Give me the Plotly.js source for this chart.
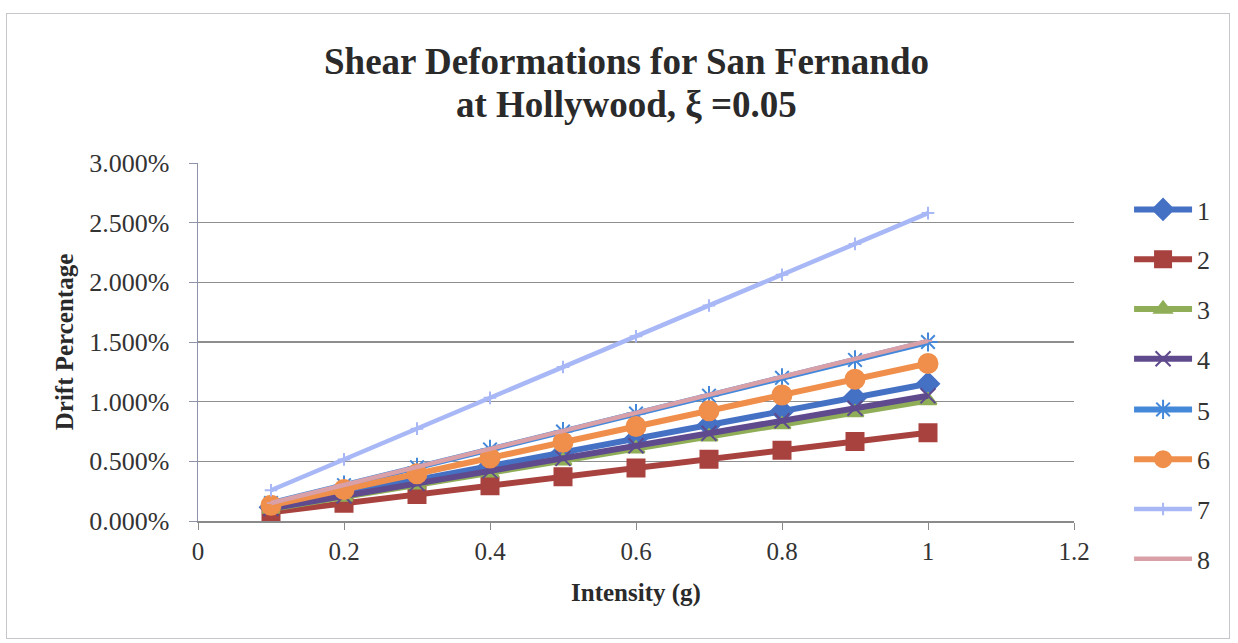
<!DOCTYPE html>
<html>
<head>
<meta charset="utf-8">
<script src="https://cdn.plot.ly/plotly-3.0.1.min.js"></script>
<style>
html,body{margin:0;padding:0;background:#fff;}
#chart{width:1238px;height:643px;}
#frame{position:absolute;left:6px;top:13px;width:1224px;height:626px;border:1.5px solid #c4c6cc;pointer-events:none;box-sizing:border-box;}
</style>
</head>
<body>
<div id="chart"></div>
<div id="frame"></div>
<script>
// Intensity (g)
const intensity = [0.1, 0.2, 0.3, 0.4, 0.5, 0.6, 0.7, 0.8, 0.9, 1.0];
// Drift percentage (fraction) per series
const s1 = [0.00115, 0.00230, 0.00345, 0.00460, 0.00575, 0.00690, 0.00805, 0.00920, 0.01035, 0.01150];
const s2 = [0.00074, 0.00148, 0.00222, 0.00296, 0.00370, 0.00444, 0.00518, 0.00592, 0.00666, 0.00740];
const s3 = [0.00101, 0.00202, 0.00303, 0.00404, 0.00505, 0.00606, 0.00707, 0.00808, 0.00909, 0.01010];
const s4 = [0.00105, 0.00210, 0.00315, 0.00420, 0.00525, 0.00630, 0.00735, 0.00840, 0.00945, 0.01050];
const s5 = [0.00150, 0.00300, 0.00450, 0.00600, 0.00750, 0.00900, 0.01050, 0.01200, 0.01350, 0.01500];
const s6 = [0.00132, 0.00264, 0.00396, 0.00528, 0.00660, 0.00792, 0.00924, 0.01056, 0.01188, 0.01320];
const s7 = [0.00258, 0.00516, 0.00774, 0.01032, 0.01290, 0.01548, 0.01806, 0.02064, 0.02322, 0.02580];
const s8 = [0.00151, 0.00302, 0.00453, 0.00604, 0.00755, 0.00906, 0.01057, 0.01208, 0.01359, 0.01510];
const names = ['1','2','3','4','5','6','7','8'];
const series = [s1, s2, s3, s4, s5, s6, s7, s8];
const titleLines = ['Shear Deformations for San Fernando', 'at Hollywood, ξ =0.05'];

const styles = [
  {color:'#4571C4', symbol:'diamond', size:17, width:6},
  {color:'#A8423F', symbol:'square', size:17, width:6},
  {color:'#8FAE57', symbol:'triangle-up', size:15, width:6},
  {color:'#5F4A8E', symbol:'x-thin-open', size:15, width:6},
  {color:'#4488DA', symbol:'asterisk-open', size:16, width:6},
  {color:'#EF8F4B', symbol:'circle', size:19, width:6},
  {color:'#A8B7F6', symbol:'cross-thin-open', size:9, width:4.5},
  {color:'#D9A0A8', symbol:'line-ew-open', size:6, width:4.5}
];

const traces = series.map((s, i) => ({
  x: intensity, y: s, name: names[i], type: 'scatter', mode: 'lines+markers',
  legend: i < 4 ? 'legend' : 'legend2',
  legendgroup: 'g' + i,
  line: {color: styles[i].color, width: styles[i].width},
  marker: {symbol: styles[i].symbol, size: styles[i].size, color: styles[i].color,
           line: {color: styles[i].color, width: 2}}
}));

const serif = 'Liberation Serif, Times New Roman, serif';
const legendBase = {xref: 'container', yref: 'container', x: 0.912, xanchor: 'left', yanchor: 'top',
           font: {family: serif, size: 26, color: '#333'}, tracegroupgap: 13, itemwidth: 58,
           bgcolor: 'rgba(0,0,0,0)'};
const plotTop = 163, plotBottom = 521;
const layout = {
  width: 1238, height: 643,
  margin: {l: 198, r: 164, t: plotTop, b: 643 - plotBottom},
  paper_bgcolor: '#fff', plot_bgcolor: '#fff',
  font: {family: serif, color: '#222'},
  annotations: titleLines.map((t, i) => ({
    text: '<b>' + t + '</b>', xref: 'paper', yref: 'paper', x: 0.489,
    y: (plotBottom - (62 + 42 * i)) / (plotBottom - plotTop),
    xanchor: 'center', yanchor: 'middle', showarrow: false,
    font: {family: serif, size: 37, color: '#2a2a2a'}
  })),
  xaxis: {range: [0, 1.2], dtick: 0.2, tick0: 0, showgrid: false, zeroline: false,
          showline: true, linecolor: '#8a8a8a', linewidth: 1.5,
          ticks: 'outside', ticklen: 7, tickcolor: '#8a8a8a',
          tickfont: {family: serif, size: 25, color: '#333'},
          title: {text: '<b>Intensity (g)</b>', font: {family: serif, size: 25, color: '#2a2a2a'}, standoff: 20}},
  yaxis: {range: [0, 0.03], dtick: 0.005, tick0: 0, tickformat: '.3%',
          showgrid: true, gridcolor: '#8e8e8e', gridwidth: 1.2, zeroline: false,
          showline: true, linecolor: '#8e93ab', linewidth: 1.5,
          ticks: 'outside', ticklen: 8, tickcolor: '#8e93ab', ticklabelstandoff: 14,
          tickfont: {family: serif, size: 26, color: '#333'},
          title: {text: '<b>Drift Percentage</b>', font: {family: serif, size: 25, color: '#2a2a2a'}, standoff: 8}},
  legend: Object.assign({}, legendBase, {y: 1 - 186 / 643}),
  legend2: Object.assign({}, legendBase, {y: 1 - 386 / 643}),
  showlegend: true
};

Plotly.newPlot('chart', traces, layout, {displayModeBar: false, staticPlot: true});
</script>
</body>
</html>
